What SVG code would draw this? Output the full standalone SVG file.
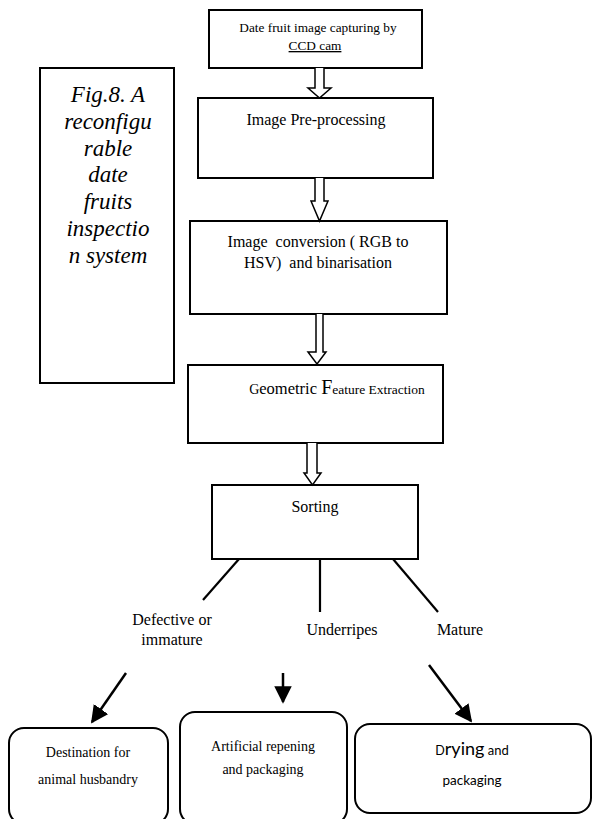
<svg xmlns="http://www.w3.org/2000/svg" width="594" height="819" viewBox="0 0 594 819">
<defs>
<style>
.box{fill:#fff;stroke:#000;stroke-width:2}
.rbox{fill:#fff;stroke:#000;stroke-width:2}
.hol{fill:#fff;stroke:#000;stroke-width:1.5;stroke-linejoin:miter}
.ln{stroke:#000;stroke-width:2.2;fill:none}
.arr{stroke:#000;stroke-width:2.5;fill:none}
.t{font-family:"Liberation Serif","Times New Roman",serif;fill:#000;text-anchor:middle}
.s{font-family:"Lato","Open Sans","Liberation Sans",sans-serif;fill:#000;text-anchor:middle}
.fig{font-family:"Liberation Serif","Times New Roman",serif;font-style:italic;font-size:23px;fill:#000;text-anchor:middle}
</style>
<marker id="ah" viewBox="0 0 10 10" refX="9" refY="5" markerWidth="7" markerHeight="7" markerUnits="strokeWidth" orient="auto">
<path d="M0,0 L10,5 L0,10 z" fill="#000"/>
</marker>
</defs>
<rect width="594" height="819" fill="#fff"/>

<g id="fig-caption">
<rect class="box" x="40" y="68" width="134" height="315"/>
<text class="fig" x="108" y="102">Fig.8. A</text>
<text class="fig" x="108" y="129">reconfigu</text>
<text class="fig" x="108" y="156">rable</text>
<text class="fig" x="108" y="182">date</text>
<text class="fig" x="108" y="209">fruits</text>
<text class="fig" x="108" y="236">inspectio</text>
<text class="fig" x="108" y="263">n system</text>
</g>

<g id="capture">
<rect class="box" x="209" y="10" width="213" height="58"/>
<text class="t" x="318" y="32" font-size="13.3">Date fruit image capturing by</text>
<text class="t" x="315" y="50" font-size="13.3" text-decoration="underline">CCD cam</text>
</g>

<g id="preprocessing">
<rect class="box" x="198" y="98" width="235" height="80"/>
<text class="t" x="316" y="125" font-size="16">Image Pre-processing</text>
</g>

<g id="conversion">
<rect class="box" x="190" y="221" width="257" height="93"/>
<text class="t" x="318" y="247" font-size="16" xml:space="preserve">Image  conversion ( RGB to</text>
<text class="t" x="318" y="268" font-size="16" xml:space="preserve">HSV)  and binarisation</text>
</g>

<g id="feature">
<rect class="box" x="188" y="365" width="255" height="78"/>
<text class="t" x="337" y="394" font-size="13.5"><tspan font-size="14">G</tspan><tspan font-size="16.5">eometric </tspan><tspan font-size="20">F</tspan><tspan font-size="13.5">eature Extraction</tspan></text>
</g>

<g id="sorting">
<rect class="box" x="212" y="485" width="206" height="74"/>
<text class="t" x="315" y="512" font-size="16">Sorting</text>
</g>

<g id="labels">
<text class="t" x="172" y="625" font-size="16">Defective or</text>
<text class="t" x="172" y="645" font-size="16">immature</text>
<text class="t" x="342" y="635" font-size="16">Underripes</text>
<text class="t" x="460" y="635" font-size="16">Mature</text>
</g>

<g id="animal">
<rect class="rbox" x="9" y="728" width="159" height="96" rx="15" ry="15"/>
<text class="t" x="88" y="757" font-size="14">Destination for</text>
<text class="t" x="88" y="784" font-size="14">animal husbandry</text>
</g>

<g id="ripening">
<rect class="rbox" x="180" y="712" width="167" height="112" rx="15" ry="15"/>
<text class="t" x="263" y="751" font-size="14">Artificial repening</text>
<text class="t" x="263" y="774" font-size="14">and packaging</text>
</g>

<g id="drying">
<rect class="rbox" x="355" y="724" width="236" height="89" rx="15" ry="15"/>
<text class="s" x="472" y="755" font-size="13"><tspan font-size="12.5">D</tspan><tspan font-size="18">rying</tspan> and</text>
<text class="s" x="472" y="785" font-size="13.5">packaging</text>
</g>

<g id="connectors">
<path class="hol" d="M315,68 V88 H308 L319.5,98 L331,88 H324 V68"/>
<path class="hol" d="M315,178 V201 H311 L319.5,221 L328,201 H324 V178"/>
<path class="hol" d="M316,314 V352 H308 L317,364 L326,352 H323 V314"/>
<path class="hol" d="M307,443 V473 H304 L312.5,485 L321,473 H317 V443"/>
<line class="ln" x1="239" y1="559" x2="203" y2="600"/>
<line class="ln" x1="320" y1="559" x2="320" y2="612"/>
<line class="ln" x1="393" y1="559" x2="438" y2="612"/>
<line class="arr" x1="126" y1="673" x2="92" y2="722" marker-end="url(#ah)"/>
<line class="arr" x1="283" y1="673" x2="283" y2="702" marker-end="url(#ah)"/>
<line class="arr" x1="429" y1="665" x2="471" y2="721" marker-end="url(#ah)"/>
</g>
</svg>
